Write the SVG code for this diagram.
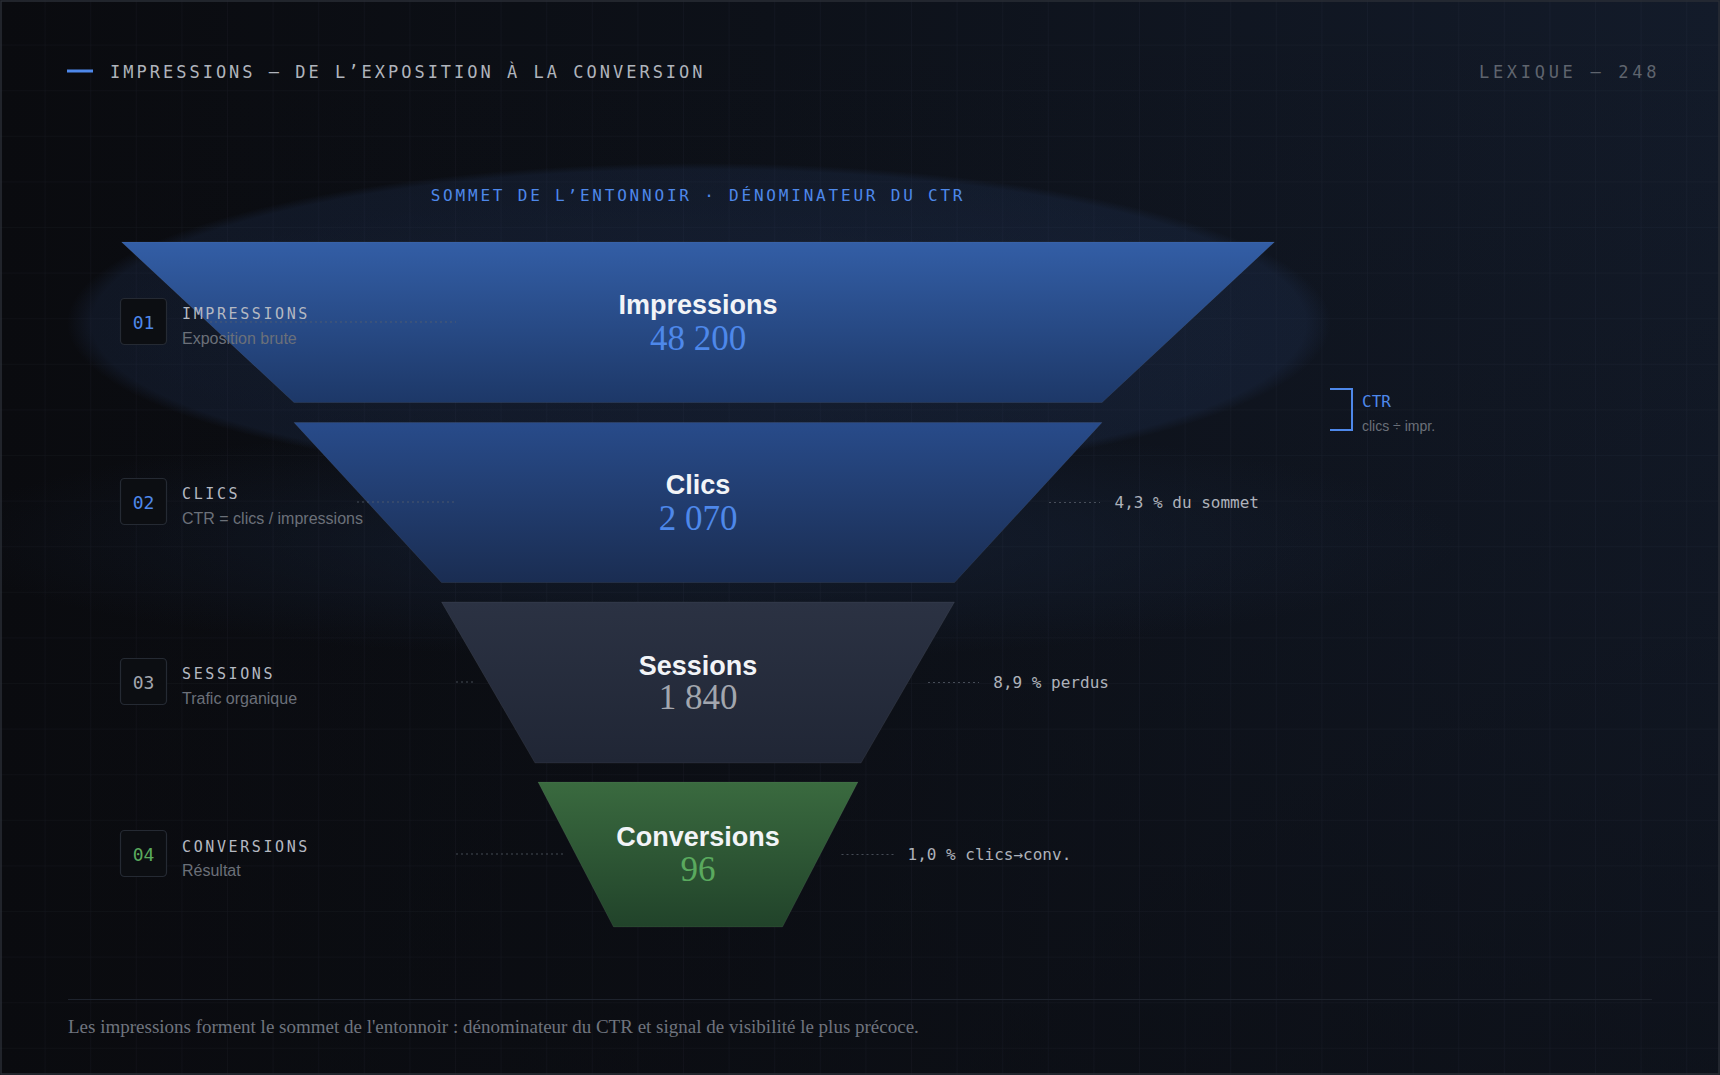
<svg xmlns="http://www.w3.org/2000/svg" width="1720" height="1075" viewBox="0 0 1720 1075">
  <defs>
    <linearGradient id="bgH" x1="0" y1="0" x2="1" y2="0">
      <stop offset="0" stop-color="#0a0b0f"/>
      <stop offset="0.45" stop-color="#0d1119"/>
      <stop offset="1" stop-color="#131b2a"/>
    </linearGradient>
    <linearGradient id="bgV" x1="0" y1="0" x2="0" y2="1">
      <stop offset="0" stop-color="#0a0b0f" stop-opacity="0"/>
      <stop offset="0.55" stop-color="#0a0b0f" stop-opacity="0.25"/>
      <stop offset="1" stop-color="#0a0b0f" stop-opacity="0.55"/>
    </linearGradient>
    <radialGradient id="glowMid" cx="0.5" cy="0.5" r="0.5">
      <stop offset="0" stop-color="#1c2d4a" stop-opacity="0.45"/>
      <stop offset="1" stop-color="#1c2d4a" stop-opacity="0"/>
    </radialGradient>
    <radialGradient id="halo" cx="0.5" cy="0.5" r="0.5">
      <stop offset="0" stop-color="#2a4272" stop-opacity="0.30"/>
      <stop offset="0.96" stop-color="#243a64" stop-opacity="0.24"/>
      <stop offset="1" stop-color="#243a64" stop-opacity="0"/>
    </radialGradient>
    <linearGradient id="g1" x1="0" y1="0" x2="0" y2="1">
      <stop offset="0" stop-color="#335ea6"/>
      <stop offset="1" stop-color="#1d3868"/>
    </linearGradient>
    <linearGradient id="g2" x1="0" y1="0" x2="0" y2="1">
      <stop offset="0" stop-color="#284b8a"/>
      <stop offset="1" stop-color="#1a2d52"/>
    </linearGradient>
    <linearGradient id="g3" x1="0" y1="0" x2="0" y2="1">
      <stop offset="0" stop-color="#2b3243"/>
      <stop offset="1" stop-color="#202635"/>
    </linearGradient>
    <linearGradient id="g4" x1="0" y1="0" x2="0" y2="1">
      <stop offset="0" stop-color="#3a6a3f"/>
      <stop offset="1" stop-color="#21432a"/>
    </linearGradient>
    <pattern id="grid" x="0" y="0" width="45.6" height="45.6" patternUnits="userSpaceOnUse">
      <path d="M45.6 0 V45.6 M0 45.6 H45.6" fill="none" stroke="#8aa0c8" stroke-opacity="0.07" stroke-width="1"/>
    </pattern>
    <style>
      .mono { font-family: "DejaVu Sans Mono", "Liberation Mono", monospace; }
      .sans { font-family: "Liberation Sans", Arial, sans-serif; }
      .serif { font-family: "Liberation Serif", "Times New Roman", serif; }
      .seg { stroke: #ffffff; stroke-opacity: 0.06; stroke-width: 1; }
      .box { fill: #0c0e12; stroke: #252a33; stroke-width: 1.2; }
      .boxnum { font-size: 18px; text-anchor: middle; }
      .lab { font-size: 15px; letter-spacing: 2.6px; fill: #b5b9c2; }
      .sub { font-size: 16px; fill: #6b7079; }
      .name { font-size: 27px; font-weight: bold; fill: #f2f4f7; text-anchor: middle; }
      .num { font-size: 35px; text-anchor: middle; font-variant-numeric: oldstyle-nums; }
      .dots { stroke: #5a606c; stroke-opacity: 0.75; stroke-width: 1; stroke-dasharray: 2 3; fill: none; }
      .note { font-size: 16px; fill: #aeb2ba; }
      .blue { fill: #4e88ea; }
      .green { fill: #5aaa5e; }
      .grey { fill: #a2a6ae; }
    </style>
  </defs>

  <!-- background -->
  <rect x="0" y="0" width="1720" height="1075" fill="url(#bgH)"/>
  <rect x="0" y="0" width="1720" height="1075" fill="url(#bgV)"/>
  <ellipse cx="700" cy="540" rx="760" ry="120" fill="url(#glowMid)"/>
  <rect x="0" y="0" width="1720" height="1075" fill="url(#grid)"/>
  <ellipse cx="699" cy="323" rx="632" ry="160" fill="url(#halo)"/>

  <!-- header -->
  <line x1="67" y1="71" x2="93" y2="71" stroke="#4e88ea" stroke-width="3"/>
  <text class="mono" x="110" y="78" font-size="17" letter-spacing="3" fill="#b0b4bc">IMPRESSIONS — DE L’EXPOSITION À LA CONVERSION</text>
  <text class="mono" x="1479" y="78" font-size="17" letter-spacing="3.7" fill="#5f646e">LEXIQUE — 248</text>
  <text class="mono" x="698" y="201" font-size="16" letter-spacing="2.8" fill="#4e88ea" text-anchor="middle">SOMMET DE L’ENTONNOIR · DÉNOMINATEUR DU CTR</text>

  <!-- funnel segments -->
  <g id="seg-impressions">
    <polygon class="seg" points="121.5,242 1274.5,242 1102,402.5 294,402.5" fill="url(#g1)"/>
    <text class="sans name" x="698" y="314">Impressions</text>
    <text class="serif num blue" x="698" y="349.5">48 200</text>
  </g>
  <g id="seg-clics">
    <polygon class="seg" points="294,422.5 1102,422.5 954.5,582.5 441.5,582.5" fill="url(#g2)"/>
    <text class="sans name" x="698" y="494">Clics</text>
    <text class="serif num blue" x="698" y="529.5">2 070</text>
  </g>
  <g id="seg-sessions">
    <polygon class="seg" points="441.5,602 954.5,602 861,763 535,763" fill="url(#g3)"/>
    <text class="sans name" x="698" y="675">Sessions</text>
    <text class="serif num grey" x="698" y="709">1 840</text>
  </g>
  <g id="seg-conversions">
    <polygon class="seg" points="538,782 858,782 782.5,927 613.5,927" fill="url(#g4)"/>
    <text class="sans name" x="698" y="846">Conversions</text>
    <text class="serif num green" x="698" y="881">96</text>
  </g>

  <!-- connectors -->
  <g id="connectors">
    <line class="dots" x1="210" y1="322" x2="456" y2="322"/>
    <line class="dots" x1="357" y1="502" x2="456" y2="502"/>
    <line class="dots" x1="456" y1="682" x2="476" y2="682"/>
    <line class="dots" x1="456" y1="854" x2="564" y2="854"/>
    <line class="dots" x1="1049" y1="502.5" x2="1100" y2="502.5"/>
    <line class="dots" x1="928" y1="682.5" x2="979" y2="682.5"/>
    <line class="dots" x1="841.5" y1="854.5" x2="894" y2="854.5"/>
  </g>

  <!-- left labels -->
  <g id="label-01">
    <rect class="box" x="120.5" y="298.5" width="46" height="46" rx="4"/>
    <text class="mono boxnum blue" x="143.5" y="328.5">01</text>
    <text class="mono lab" x="182" y="319.3">IMPRESSIONS</text>
    <text class="sans sub" x="182" y="344">Exposition brute</text>
  </g>
  <g id="label-02">
    <rect class="box" x="120.5" y="478.5" width="46" height="46" rx="4"/>
    <text class="mono boxnum blue" x="143.5" y="508.5">02</text>
    <text class="mono lab" x="182" y="499.3">CLICS</text>
    <text class="sans sub" x="182" y="524.3">CTR = clics / impressions</text>
  </g>
  <g id="label-03">
    <rect class="box" x="120.5" y="658.5" width="46" height="46" rx="4"/>
    <text class="mono boxnum grey" x="143.5" y="688.5">03</text>
    <text class="mono lab" x="182" y="679.3">SESSIONS</text>
    <text class="sans sub" x="182" y="704">Trafic organique</text>
  </g>
  <g id="label-04">
    <rect class="box" x="120.5" y="830.5" width="46" height="46" rx="4"/>
    <text class="mono boxnum green" x="143.5" y="860.5">04</text>
    <text class="mono lab" x="182" y="851.7">CONVERSIONS</text>
    <text class="sans sub" x="182" y="876">Résultat</text>
  </g>

  <!-- right notes -->
  <g id="note-ctr">
    <path d="M1330 389 H1352 V430 H1330" fill="none" stroke="#4e88ea" stroke-width="2"/>
    <text class="mono" x="1362" y="406.5" font-size="16" fill="#4e88ea">CTR</text>
    <text class="sans" x="1362" y="430.5" font-size="14" fill="#6b7079">clics ÷ impr.</text>
  </g>
  <g id="note-clics">
    <text class="mono note" x="1114.5" y="508">4,3 % du sommet</text>
  </g>
  <g id="note-sessions">
    <text class="mono note" x="993.3" y="688">8,9 % perdus</text>
  </g>
  <g id="note-conversions">
    <text class="mono note" x="907.5" y="860">1,0 % clics→conv.</text>
  </g>

  <!-- footer -->
  <line x1="68" y1="999.5" x2="1652" y2="999.5" stroke="#1e232d" stroke-width="1"/>
  <text class="serif" x="68" y="1033" font-size="19" fill="#6f747e">Les impressions forment le sommet de l'entonnoir : dénominateur du CTR et signal de visibilité le plus précoce.</text>

  <!-- frame -->
  <rect x="1" y="1" width="1718" height="1073" fill="none" stroke="#2a2e36" stroke-width="1.5"/>
</svg>
